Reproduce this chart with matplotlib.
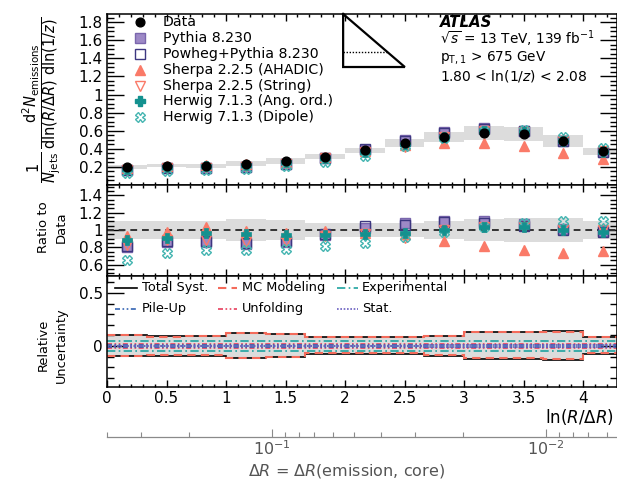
import matplotlib
matplotlib.use('Agg')
import matplotlib.pyplot as plt
import numpy as np
from matplotlib.ticker import (MultipleLocator, AutoMinorLocator, FuncFormatter,
                               LogLocator, NullFormatter, FixedLocator)

plt.rcParams['font.family'] = ['DejaVu Sans']
plt.rcParams['mathtext.fontset'] = 'dejavusans'

# ---------------- data ----------------
jet_radius = 0.4
bin_width = 1.0 / 3.0
n_bins = 13
edges = np.arange(n_bins + 1) * bin_width
centers = 0.5 * (edges[:-1] + edges[1:])

data = np.array([0.202, 0.215, 0.212, 0.234, 0.266, 0.315, 0.382, 0.464,
                 0.531, 0.576, 0.565, 0.482, 0.371])
data_rel_unc = np.array([0.105, 0.10, 0.105, 0.125, 0.12, 0.08, 0.08, 0.085,
                         0.10, 0.13, 0.14, 0.14, 0.10])

# ratios MC / data
r_pythia = np.array([0.80, 0.86, 0.865, 0.845, 0.86, 0.94, 1.02, 1.08, 1.11, 1.10, 1.065, 1.01, 0.99])
r_powheg = np.array([0.82, 0.87, 0.87, 0.85, 0.87, 0.95, 1.05, 1.06, 1.09, 1.08, 1.05, 1.00, 0.98])
r_ahadic = np.array([0.93, 0.98, 1.03, 0.99, 0.97, 0.99, 0.97, 0.95, 0.87, 0.815, 0.765, 0.74, 0.76])
r_string = np.array([0.83, 0.88, 0.88, 0.86, 0.87, 0.93, 0.96, 0.91, 1.00, 1.03, 1.04, 1.00, 1.00])
r_ang = np.array([0.89, 0.91, 0.97, 0.95, 0.94, 0.94, 0.95, 0.97, 1.00, 1.03, 1.03, 1.00, 0.98])
r_dipole = np.array([0.65, 0.73, 0.77, 0.77, 0.78, 0.815, 0.85, 0.92, 0.98, 1.03, 1.08, 1.10, 1.11])

# relative uncertainties (bottom panel)
tot_up = np.array([0.108, 0.092, 0.097, 0.127, 0.115, 0.087, 0.087, 0.087, 0.097, 0.135, 0.135, 0.14, 0.087])
tot_dn = np.array([0.098, 0.090, 0.095, 0.118, 0.108, 0.077, 0.077, 0.077, 0.094, 0.122, 0.122, 0.13, 0.077])
mc_up = tot_up - 0.006
mc_dn = tot_dn - 0.006
exp_unc = np.array([0.045, 0.045, 0.045, 0.045, 0.045, 0.05, 0.05, 0.05, 0.045, 0.045, 0.045, 0.045, 0.045])
pileup_unc = np.array([0.008, 0.008, 0.008, 0.008, 0.008, 0.008, 0.008, 0.008, 0.008, 0.008, 0.008, 0.008, 0.008])
unfold_unc = np.array([0.018, 0.018, 0.018, 0.02, 0.02, 0.018, 0.018, 0.018, 0.02, 0.02, 0.02, 0.02, 0.018])
stat_unc = np.array([0.004, 0.004, 0.004, 0.004, 0.004, 0.004, 0.004, 0.004, 0.005, 0.005, 0.005, 0.006, 0.006])

# ---------------- styles ----------------
C_PY_F, C_PY_E = '#9d89c6', '#7a66ad'
C_POW = '#3d3780'
C_SH = '#fa7a68'
C_HW = '#13918f'
C_HWD = '#45b5b1'
C_BAND = '#dcdcdc'
MS = 6.8

W, H = 617, 480
fig = plt.figure(figsize=(W / 100, H / 100), dpi=100)


def ax_px(x0, y0, x1, y1):
    return fig.add_axes([x0 / W, 1 - y1 / H, (x1 - x0) / W, (y1 - y0) / H])


ax1 = ax_px(107, 14, 617, 185)
ax2 = ax_px(107, 185, 617, 276)
ax3 = ax_px(107, 276, 617, 387)

XMAX = 510 / 119.0


def fmt_g(hide_zero):
    def f(v, p):
        if hide_zero and abs(v) < 1e-9:
            return ''
        return '%g' % round(v, 6)
    return FuncFormatter(f)


def style(ax, ylo, yhi, ymaj, nminor, hide_zero=True, xlabels=False):
    ax.set_xlim(0, XMAX)
    ax.set_ylim(ylo, yhi)
    ax.xaxis.set_major_locator(MultipleLocator(0.5))
    ax.xaxis.set_minor_locator(MultipleLocator(0.1))
    ax.yaxis.set_major_locator(MultipleLocator(ymaj))
    ax.yaxis.set_minor_locator(AutoMinorLocator(nminor))
    ax.yaxis.set_major_formatter(fmt_g(hide_zero))
    ax.xaxis.set_major_formatter(fmt_g(False))
    ax.tick_params(which='both', direction='in', top=True, right=True, width=1, colors='black')
    ax.tick_params(axis='x', which='major', length=5)
    ax.tick_params(axis='x', which='minor', length=2.5)
    ax.tick_params(axis='y', which='major', length=12, labelsize=11, pad=3)
    ax.tick_params(axis='y', which='minor', length=5)
    ax.tick_params(axis='x', labelsize=11, labelbottom=xlabels, pad=3)
    for s in ax.spines.values():
        s.set_linewidth(1.1)


def draw_mc(ax, scale):
    mk = dict(ls='none', zorder=3)
    ax.plot(centers, scale * r_pythia, marker='s', ms=MS, mfc=C_PY_F, mec=C_PY_E, mew=1, **mk)
    ax.plot(centers, scale * r_powheg, marker='s', ms=MS, mfc='none', mec=C_POW, mew=1, **mk)
    ax.plot(centers, scale * r_string, marker='v', ms=MS, mfc='none', mec=C_SH, mew=1, **mk)
    ax.plot(centers, scale * r_ahadic, marker='^', ms=MS, mfc=C_SH, mec=C_SH, mew=1, **mk)
    ax.plot(centers, scale * r_dipole, marker='X', ms=MS, mfc='none', mec=C_HWD, mew=1, **mk)
    ax.plot(centers, scale * r_ang, marker='P', ms=MS, mfc=C_HW, mec=C_HW, mew=0.5, **mk)


# ---------------- top panel ----------------
ax1.stairs(data * (1 + data_rel_unc), edges, baseline=data * (1 - data_rel_unc),
           fill=True, color=C_BAND, lw=0, zorder=1)
draw_mc(ax1, data)
ax1.plot(centers, data, marker='o', ms=6.3, mfc='black', mec='black', ls='none', zorder=4)
style(ax1, 0, 1.89, 0.2, 4, hide_zero=True)

# legend (top)
leg_entries = [
    ('Data', dict(marker='o', ms=6.3, mfc='black', mec='black')),
    ('Pythia 8.230', dict(marker='s', ms=MS, mfc=C_PY_F, mec=C_PY_E)),
    ('Powheg+Pythia 8.230', dict(marker='s', ms=MS, mfc='none', mec=C_POW)),
    ('Sherpa 2.2.5 (AHADIC)', dict(marker='^', ms=MS, mfc=C_SH, mec=C_SH)),
    ('Sherpa 2.2.5 (String)', dict(marker='v', ms=MS, mfc='none', mec=C_SH)),
    ('Herwig 7.1.3 (Ang. ord.)', dict(marker='P', ms=MS, mfc=C_HW, mec=C_HW)),
    ('Herwig 7.1.3 (Dipole)', dict(marker='X', ms=MS, mfc='none', mec=C_HWD)),
]
leg_y = [0.953, 0.860, 0.766, 0.673, 0.579, 0.491, 0.398]
for (lab, st), yy in zip(leg_entries, leg_y):
    ax1.plot([0.0647], [yy], transform=ax1.transAxes, ls='none', clip_on=False, **st)
    ax1.text(0.11, yy, lab, transform=ax1.transAxes, ha='left', va='center', fontsize=10.2)

# triangle sketch
tri_x = [0.463, 0.463, 0.584, 0.463]
tri_y = [1.0, 0.69, 0.69, 1.0]
ax1.plot(tri_x, tri_y, transform=ax1.transAxes, color='black', lw=1.6, clip_on=False,
         solid_joinstyle='miter')
ax1.plot([0.463, 0.55], [0.778, 0.778], transform=ax1.transAxes, color='black', lw=1.0,
         ls=(0, (1, 1.2)))

# ATLAS text
tx = 0.653
ax1.text(tx, 0.953, 'ATLAS', transform=ax1.transAxes, ha='left', va='center',
         fontsize=10.8, fontweight='bold', style='italic')
ax1.text(tx, 0.852, r'$\sqrt{s}$ = 13 TeV, 139 fb$^{-1}$', transform=ax1.transAxes,
         ha='left', va='center', fontsize=9.8)
ax1.text(tx, 0.745, r'p$_{\mathrm{T,1}}$ > 675 GeV', transform=ax1.transAxes,
         ha='left', va='center', fontsize=9.8)
ax1.text(tx, 0.637, r'1.80 < ln(1/$z$) < 2.08', transform=ax1.transAxes,
         ha='left', va='center', fontsize=10)

# ---------------- ratio panel ----------------
ax2.stairs(1 + data_rel_unc, edges, baseline=1 - data_rel_unc, fill=True, color=C_BAND, lw=0, zorder=1)
ax2.axhline(1.0, color='#333333', ls=(0, (3.5, 2.5)), lw=1.4, zorder=2)
draw_mc(ax2, 1.0)
style(ax2, 0.47, 1.52, 0.2, 4, hide_zero=True)

# ---------------- uncertainty panel ----------------
ax3.stairs(tot_up, edges, baseline=-tot_dn, fill=True, color=C_BAND, lw=0, zorder=1)
comps = [
    (tot_up, tot_dn, dict(color='black', ls='-', lw=1.2)),
    (mc_up, mc_dn, dict(color='#f46b5b', ls=(0, (4, 2.5)), lw=1.5)),
    (exp_unc, exp_unc, dict(color='#1fa3a0', ls=(0, (5, 2, 1, 2)), lw=1.2)),
    (unfold_unc, unfold_unc, dict(color='#e8405e', ls=(0, (3, 1.5, 1, 1.5, 1, 1.5)), lw=1.2)),
    (pileup_unc, pileup_unc, dict(color='#3463b3', ls=(0, (3, 1.5, 1, 1.5, 1, 1.5)), lw=1.2)),
    (stat_unc, stat_unc, dict(color='#6a5fc0', ls=(0, (1, 1)), lw=1.2)),
]
for up, dn, st in comps:
    ax3.stairs(up, edges, baseline=None, zorder=2, **st)
    ax3.stairs(-dn, edges, baseline=None, zorder=2, **st)
style(ax3, -0.387, 0.66, 0.5, 5, hide_zero=False, xlabels=True)

leg2 = [
    ('Total Syst.', 0, 0.892, comps[0][2]),
    ('MC Modeling', 1, 0.892, comps[1][2]),
    ('Experimental', 2, 0.892, comps[2][2]),
    ('Pile-Up', 0, 0.703, comps[4][2]),
    ('Unfolding', 1, 0.703, comps[3][2]),
    ('Stat.', 2, 0.703, comps[5][2]),
]
col_line = [(0.0157, 0.0588, 0.0686), (0.2176, 0.255, 0.2647), (0.451, 0.492, 0.50)]
for lab, c, yy, st in leg2:
    x0, x1, xt = col_line[c]
    ax3.plot([x0, x1], [yy, yy], transform=ax3.transAxes, **st)
    ax3.text(xt, yy, lab, transform=ax3.transAxes, ha='left', va='center', fontsize=9.3)

# ---------------- axis labels ----------------
fig.text(42 / W, 1 - 100 / H,
         r'$\dfrac{1}{N_{\mathrm{jets}}}\,\dfrac{\mathrm{d}^{2}N_{\mathrm{emissions}}}'
         r'{\mathrm{dln}(R/\Delta R)\ \mathrm{dln}(1/z)}$',
         rotation=90, ha='center', va='center', fontsize=10.5)
fig.text(52 / W, 1 - 227 / H, 'Ratio to\nData', rotation=90, ha='center', va='center',
         fontsize=9.5, linespacing=1.45, multialignment='center')
fig.text(52 / W, 1 - 345 / H, 'Relative\nUncertainty', rotation=90, ha='center', va='center',
         fontsize=9.3, linespacing=1.55, multialignment='center')
fig.text(614 / W, 1 - 417 / H, r'ln($R$/$\Delta R$)', ha='right', va='center', fontsize=12)

# ---------------- secondary Delta R axis (Delta R = R * exp(-x)) ----------------
axs = fig.add_axes([107 / W, 1 - 437 / H, 1 - 107 / W, 1e-4])
axs.set_xscale('log')
axs.set_xlim(jet_radius, jet_radius * np.exp(-XMAX))
for s in ['top', 'left', 'right']:
    axs.spines[s].set_visible(False)
axs.spines['bottom'].set_color('#8a8a8a')
axs.spines['bottom'].set_linewidth(0.9)
axs.set_yticks([])
axs.patch.set_visible(False)
axs.xaxis.set_major_locator(FixedLocator([0.1, 0.01]))
axs.xaxis.set_major_formatter(FuncFormatter(lambda v, p: r'$10^{%d}$' % round(np.log10(v))))
axs.xaxis.set_minor_locator(LogLocator(base=10, subs=np.arange(2, 10)))
axs.xaxis.set_minor_formatter(NullFormatter())
axs.tick_params(axis='x', which='both', direction='in', color='#8a8a8a', labelcolor='#555555',
                labelsize=11.5, width=0.8)
axs.tick_params(axis='x', which='major', length=6, pad=2)
axs.tick_params(axis='x', which='minor', length=3.5)
fig.text(346 / W, 1 - 471 / H, r'$\Delta R$ = $\Delta R$(emission, core)', ha='center', va='center',
         fontsize=11.5, color='#555555')

fig.savefig('out.png', dpi=100)
